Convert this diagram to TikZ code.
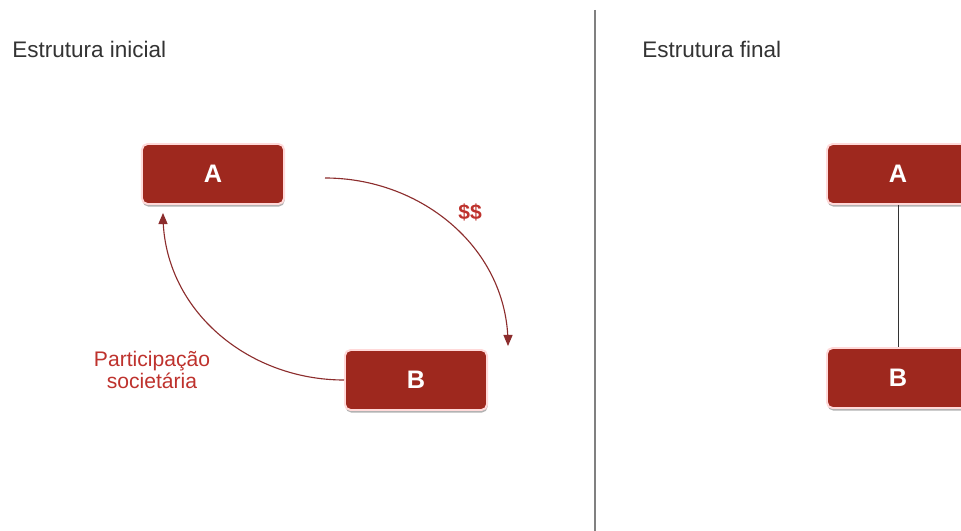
\documentclass[tikz,border=0pt]{standalone}
\usepackage{fontspec}
\setmainfont{Liberation Sans}
\usepackage{tikz}
\usetikzlibrary{arrows}
\usetikzlibrary{shadows}
\usetikzlibrary{positioning}
\definecolor{boxred}{RGB}{158,40,30}
\definecolor{flowcolour}{RGB}{140,45,45}
\definecolor{labelred}{RGB}{190,50,45}
\definecolor{dividercolour}{RGB}{128,128,128}
\newcommand\defaultarrowstyle{triangle 45}
\tikzset{>=\defaultarrowstyle}
\newcommand\flowwidth{.8pt}
\newcommand\linkwidth{.6pt}
\tikzstyle{entity}   = [rectangle, rounded corners=4pt, fill=boxred, draw=white!85!red,
  line width=1.4pt, minimum width=3.55cm, minimum height=1.5cm, text=white,
  font=\fontsize{18}{21}\selectfont\bfseries,
  drop shadow={shadow xshift=.4pt, shadow yshift=-1.8pt, opacity=.6}]
\tikzstyle{heading}  = [anchor=base west, inner sep=0pt, text=black!80,
  font=\fontsize{16}{19}\selectfont]
\tikzstyle{flow}     = [->, color=flowcolour, line width=\flowwidth]
\tikzstyle{flowtext} = [text=labelred, align=center, font=\fontsize{15}{18}\selectfont]

\begin{document}
\begin{tikzpicture}[x=0.025cm, y=-0.025cm]
    \useasboundingbox (0, 0) rectangle (961, 531);
    \clip (0, 0) rectangle (961, 531);
    \draw (12, 58) node[heading] (titleinit) {Estrutura inicial};
    \draw (642, 58) node[heading] (titlefinal) {Estrutura final};
    \coordinate (divtop) at (595, 10);
    \coordinate (divbottom) at (595, 531);
    \draw[dividercolour, line width=1.5pt] (divtop) -- (divbottom);
    \draw (213, 174) node[entity] (A) {A};
    \draw (416, 380) node[entity] (B) {B};
    \draw (898, 174) node[entity] (Afinal) {A};
    \draw (898, 378) node[entity] (Bfinal) {B};
    \coordinate (payout) at (325, 178);
    \coordinate (payin) at (508, 346);
    \coordinate (sharein) at (163, 213);
    \draw[flow] (payout) to[out=0, in=90] (payin);
    \draw[flow] (B.west) to[out=180, in=-90] (sharein);
    \draw (470, 212) node[flowtext, font=\fontsize{15}{18}\selectfont\bfseries] (money) {\$\$};
    \draw (152, 370) node[flowtext] (share) {Participação\\[-3pt]societária};
    \draw[black!80, line width=\linkwidth] (Afinal.south) -- (Bfinal.north);
\end{tikzpicture}
\end{document}
